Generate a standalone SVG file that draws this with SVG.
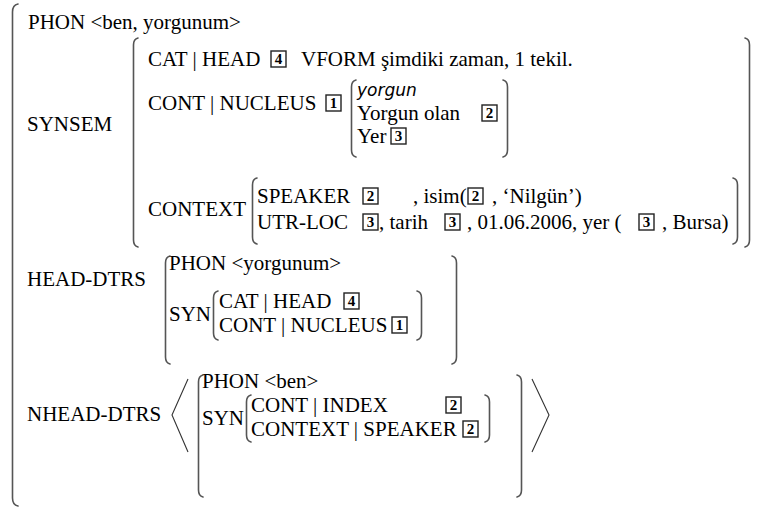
<svg xmlns="http://www.w3.org/2000/svg" xmlns:xlink="http://www.w3.org/1999/xlink" width="760" height="508" viewBox="0 0 760 508">
  <style>
    .t { font-family: "Liberation Serif", "Times New Roman", serif; font-size: 21px; fill: #000; }
    .it { font-family: "DejaVu Sans", Verdana, sans-serif; font-style: italic; font-size: 17px; fill: #000; }
    .br { fill: none; stroke: #555; stroke-width: 1.6; stroke-linecap: round; }
    .ang { fill: none; stroke: #333; stroke-width: 1.1; }
    .tag { fill: none; stroke: #222; stroke-width: 1.4; }
    .tn { font-family: "Liberation Serif", "Times New Roman", serif; font-size: 15px; font-weight: bold; fill: #000; text-anchor: middle; }
  </style>
  <defs>
    <rect id="box" width="15" height="16" class="tag"/>
  </defs>
  <rect width="760" height="508" fill="#ffffff"/>

  <!-- outer matrix: left bracket only -->
  <g id="outer">
    <path class="br" d="M18,4 Q12.5,5 12.5,12 L12.5,498 Q12.5,505 18,506"/>
    <text class="t" x="28" y="29">PHON &lt;ben, yorgunum&gt;</text>
  </g>

  <!-- SYNSEM -->
  <g id="synsem">
    <text class="t" x="27" y="131">SYNSEM</text>
    <path class="br" d="M138,38 Q133.5,39 133.5,45 L133.5,240 Q133.5,246 138,247"/>
    <path class="br" d="M745,38 Q749.5,39 749.5,45 L749.5,240 Q749.5,246 745,247"/>

    <text class="t" x="148" y="66">CAT | HEAD</text>
    <use xlink:href="#box" x="271" y="51"/>
    <text class="tn" x="278.5" y="64">4</text>
    <text class="t" x="301" y="66">VFORM şimdiki zaman, 1 tekil.</text>

    <text class="t" x="148" y="110">CONT | NUCLEUS</text>
    <use xlink:href="#box" x="326" y="95"/>
    <text class="tn" x="333.5" y="108">1</text>

    <g id="nucleus">
      <path class="br" d="M356,80 Q351.5,81 351.5,87 L351.5,150 Q351.5,156 356,157"/>
      <path class="br" d="M503,80 Q507.5,81 507.5,87 L507.5,150 Q507.5,156 503,157"/>
      <text class="it" x="357" y="96">yorgun</text>
      <text class="t" x="357" y="120">Yorgun olan</text>
      <use xlink:href="#box" x="482" y="105"/>
      <text class="tn" x="489.5" y="118">2</text>
      <text class="t" x="357" y="143">Yer</text>
      <use xlink:href="#box" x="391" y="128"/>
      <text class="tn" x="398.5" y="141">3</text>
    </g>

    <g id="context">
      <text class="t" x="148" y="216">CONTEXT</text>
      <path class="br" d="M257,178 Q252.5,179 252.5,185 L252.5,237 Q252.5,243 257,244"/>
      <path class="br" d="M733,178 Q737.5,179 737.5,185 L737.5,237 Q737.5,243 733,244"/>

      <text class="t" x="257" y="203">SPEAKER</text>
      <use xlink:href="#box" x="363" y="188"/>
      <text class="tn" x="370.5" y="201">2</text>
      <text class="t" x="413" y="203">, isim(</text>
      <use xlink:href="#box" x="468" y="188"/>
      <text class="tn" x="475.5" y="201">2</text>
      <text class="t" x="492" y="203">, ‘Nilgün’)</text>

      <text class="t" x="257" y="229">UTR-LOC</text>
      <use xlink:href="#box" x="363" y="214"/>
      <text class="tn" x="370.5" y="227">3</text>
      <text class="t" x="379" y="229">, tarih</text>
      <use xlink:href="#box" x="445" y="214"/>
      <text class="tn" x="452.5" y="227">3</text>
      <text class="t" x="467" y="229">, 01.06.2006, yer (</text>
      <use xlink:href="#box" x="639" y="214"/>
      <text class="tn" x="646.5" y="227">3</text>
      <text class="t" x="662" y="229">, Bursa)</text>
    </g>
  </g>

  <!-- HEAD-DTRS -->
  <g id="head-dtrs">
    <text class="t" x="27" y="286">HEAD-DTRS</text>
    <path class="br" d="M170,256 Q165.5,257 165.5,263 L165.5,357 Q165.5,363 170,364"/>
    <path class="br" d="M452,256 Q456.5,257 456.5,263 L456.5,357 Q456.5,363 452,364"/>
    <text class="t" x="169" y="270">PHON &lt;yorgunum&gt;</text>
    <text class="t" x="169" y="321">SYN</text>
    <path class="br" d="M218,291 Q213.5,292 213.5,298 L213.5,333 Q213.5,339 218,340"/>
    <path class="br" d="M417,291 Q421.5,292 421.5,298 L421.5,333 Q421.5,339 417,340"/>
    <text class="t" x="219" y="308">CAT | HEAD</text>
    <use xlink:href="#box" x="344" y="293"/>
    <text class="tn" x="351.5" y="306">4</text>
    <text class="t" x="219" y="332">CONT | NUCLEUS</text>
    <use xlink:href="#box" x="392" y="317"/>
    <text class="tn" x="399.5" y="330">1</text>
  </g>

  <!-- NHEAD-DTRS: a one-element list -->
  <g id="nhead-dtrs">
    <text class="t" x="27" y="421">NHEAD-DTRS</text>
    <polyline class="ang" points="188,379 172,415 188,452"/>
    <polyline class="ang" points="532,379 549,415 532,452"/>
    <path class="br" d="M203,375 Q198.5,376 198.5,382 L198.5,490 Q198.5,496 203,497"/>
    <path class="br" d="M517,375 Q521.5,376 521.5,382 L521.5,490 Q521.5,496 517,497"/>
    <text class="t" x="202" y="388">PHON &lt;ben&gt;</text>
    <text class="t" x="202" y="425">SYN</text>
    <path class="br" d="M251,395 Q246.5,396 246.5,402 L246.5,435 Q246.5,441 251,442"/>
    <path class="br" d="M485,395 Q489.5,396 489.5,402 L489.5,435 Q489.5,441 485,442"/>
    <text class="t" x="251" y="412">CONT | INDEX</text>
    <use xlink:href="#box" x="446" y="397"/>
    <text class="tn" x="453.5" y="410">2</text>
    <text class="t" x="251" y="436">CONTEXT | SPEAKER</text>
    <use xlink:href="#box" x="463" y="421"/>
    <text class="tn" x="470.5" y="434">2</text>
  </g>
</svg>
